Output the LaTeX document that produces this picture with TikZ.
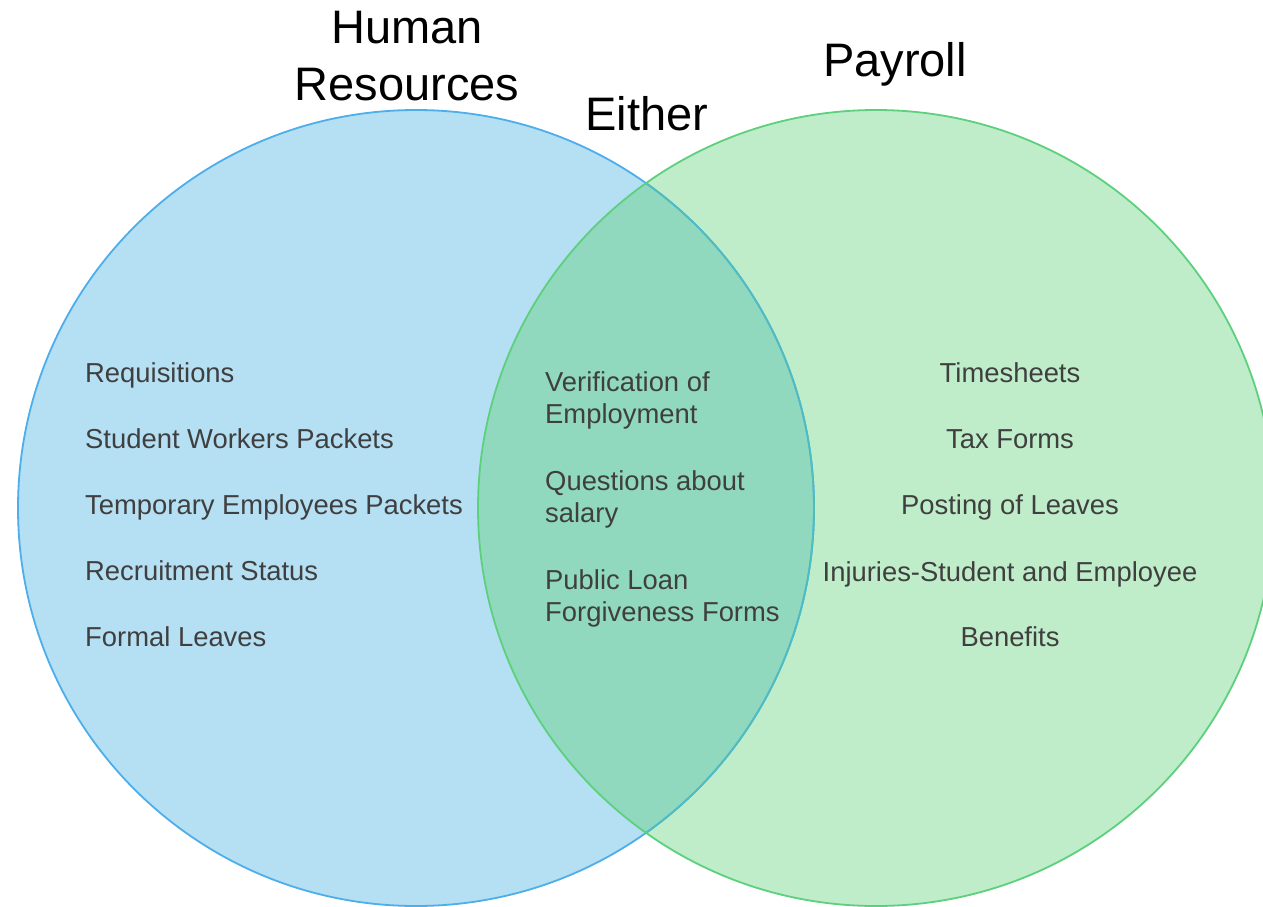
\documentclass[tikz,border=0pt]{standalone}
\usepackage{fontspec}
\setmainfont{Liberation Sans}
\begin{document}
\definecolor{hrfill}{HTML}{B5DFF2}
\definecolor{hrline}{HTML}{4DAEEA}
\definecolor{payfill}{HTML}{BFEDCA}
\definecolor{payline}{HTML}{5DD07D}
\definecolor{bothfill}{HTML}{90D9BF}
\definecolor{bothline}{HTML}{4FBCBE}
\definecolor{itemtext}{HTML}{3F3F3F}
\begin{tikzpicture}[x=1pt,y=-1pt,
  title/.style={font=\fontsize{47}{56}\selectfont, text=black, inner sep=0pt, align=center},
  item/.style={font=\fontsize{27.4}{32}\selectfont, text=itemtext, inner sep=0pt},
  pair/.style={item, align=left, anchor=north west}]
\useasboundingbox (0,0) rectangle (1263,907);
\clip (0,0) rectangle (1263,907);

% circle fills and the shared region
\fill[hrfill] (416,508) circle[radius=398];
\fill[payfill] (876,508) circle[radius=398];
\begin{scope}
  \clip (416,508) circle[radius=398];
  \fill[bothfill] (876,508) circle[radius=398];
\end{scope}

% outlines: blue one tinted where it runs under the green circle
\draw[hrline, line width=1.8pt] (416,508) circle[radius=398];
\begin{scope}
  \clip (876,508) circle[radius=398];
  \draw[bothline, line width=1.8pt] (416,508) circle[radius=398];
\end{scope}
\draw[payline, line width=1.8pt] (876,508) circle[radius=398];

% headings
\node[title, anchor=base] (hr1) at (407,44) {Human};
\node[title, anchor=base] (hr2) at (407,100) {Resources};
\node[title, anchor=base] (pay) at (895,77) {Payroll};
\node[title, anchor=base] (either) at (647,130) {Either};

% Human Resources items
\node[item, anchor=base west] (h1) at (85,382) {Requisitions};
\node[item, anchor=base west] (h2) at (85,448) {Student Workers Packets};
\node[item, anchor=base west] (h3) at (85,514) {Temporary Employees Packets};
\node[item, anchor=base west] (h4) at (85,580) {Recruitment Status};
\node[item, anchor=base west] (h5) at (85,646) {Formal Leaves};

% shared items
\node[pair] (e1) at (545,371) {Verification of\\Employment};
\node[pair] (e2) at (545,470) {Questions about\\salary};
\node[pair] (e3) at (545,569) {Public Loan\\Forgiveness Forms};

% Payroll items
\node[item, anchor=base] (p1) at (1010,382) {Timesheets};
\node[item, anchor=base] (p2) at (1010,448) {Tax Forms};
\node[item, anchor=base] (p3) at (1010,514) {Posting of Leaves};
\node[item, anchor=base] (p4) at (1010,581) {Injuries-Student and Employee};
\node[item, anchor=base] (p5) at (1010,646) {Benefits};
\end{tikzpicture}
\end{document}
